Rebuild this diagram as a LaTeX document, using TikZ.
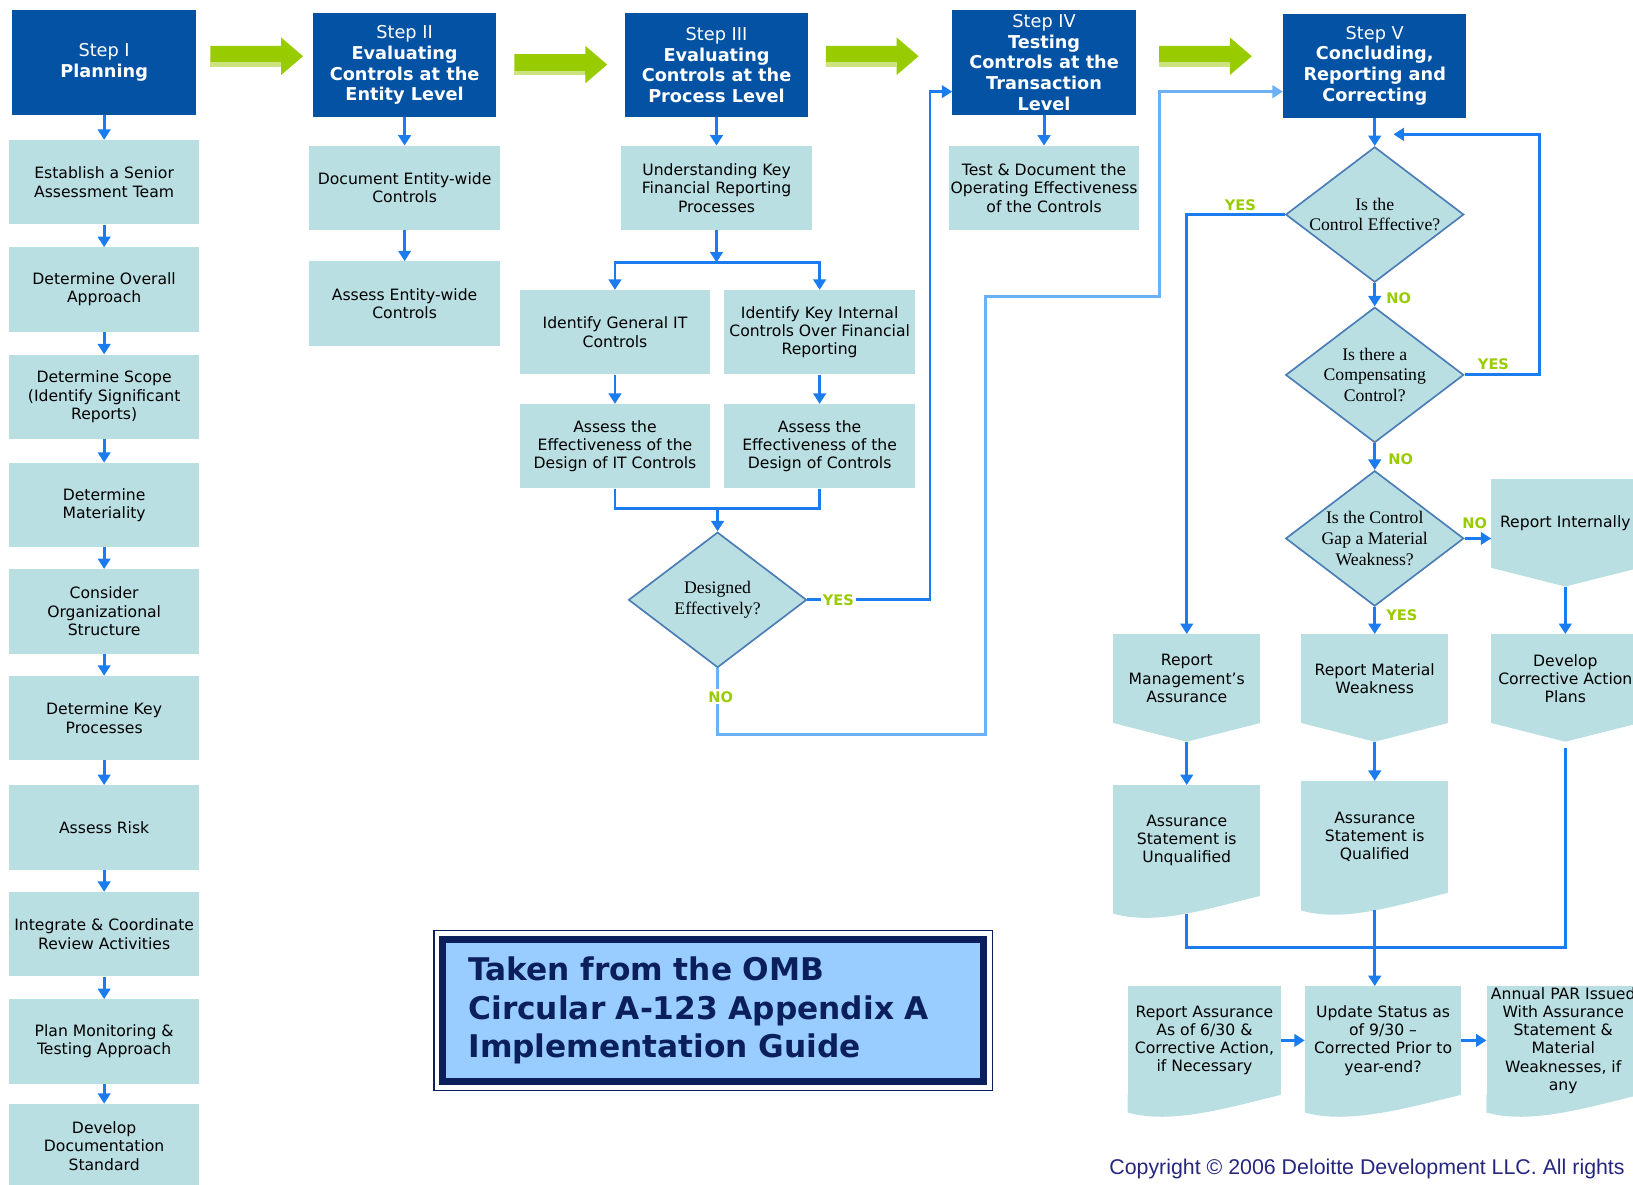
\documentclass[tikz,border=0pt]{standalone}
\usepackage{fontspec}
\setmainfont{DejaVu Sans}
\newfontfamily\qfont{Liberation Serif}
\newfontfamily\cfont{Liberation Sans}
\usetikzlibrary{shapes.geometric,arrows.meta,calc}

\definecolor{stepblue}{HTML}{0352A4}
\definecolor{boxfill}{HTML}{BADFE3}
\definecolor{diaedge}{HTML}{4A7DB5}
\definecolor{lineblue}{HTML}{1A7CEE}
\definecolor{lightline}{HTML}{6CB0F6}
\definecolor{arrowgreen}{HTML}{99CC00}
\definecolor{arrowlight}{HTML}{CCE37F}
\definecolor{ombnavy}{HTML}{0B1F5C}
\definecolor{ombfill}{HTML}{99CCFF}
\definecolor{copyblue}{HTML}{262680}

\tikzset{
  stepbox/.style={rectangle, fill=stepblue, text=white, minimum width=176pt, minimum height=100pt, inner sep=0pt, align=center, font=\fontsize{17}{20}\selectfont},
  taskbox/.style={rectangle, fill=boxfill, minimum width=183pt, minimum height=81pt, inner sep=0pt, align=center, font=\fontsize{15}{17.5}\selectfont},
  flagbox/.style={taskbox, minimum width=142pt, minimum height=85pt},
  docbox/.style={taskbox, minimum width=147pt, minimum height=104pt},
  decision/.style={diamond, fill=boxfill, draw=diaedge, line width=1.6pt, minimum width=171pt, minimum height=130pt, inner sep=0pt},
  qtext/.style={align=center, font=\qfont\fontsize{17}{20}\selectfont},
  flow/.style={draw=lineblue, line width=2.8pt, -{Triangle[width=12pt,length=10pt]}},
  joinline/.style={draw=lineblue, line width=2.8pt},
  yn/.style={text=arrowgreen, font=\bfseries\fontsize{14}{14}\selectfont, inner sep=2pt},
}

\begin{document}
\begin{tikzpicture}[x=1pt, y=-1pt]
  \useasboundingbox (0,0) rectangle (1568,1137);
  \clip (0,0) rectangle (1568,1137);

  % step headers
  \node[stepbox] (s1) at (100,60) {Step I\\\textbf{Planning}};
  \node[stepbox] (s2) at (388.5,62.5) {Step II\\\textbf{Evaluating}\\\textbf{Controls at the}\\\textbf{Entity Level}};
  \node[stepbox] (s3) at (688,62.5) {Step III\\\textbf{Evaluating}\\\textbf{Controls at the}\\\textbf{Process Level}};
  \node[stepbox] (s4) at (1002.5,60) {Step IV\\\textbf{Testing}\\\textbf{Controls at the}\\\textbf{Transaction}\\\textbf{Level}};
  \node[stepbox] (s5) at (1320,63) {Step V\\\textbf{Concluding,}\\\textbf{Reporting and}\\\textbf{Correcting}};

  % green arrows between steps
  \foreach \gx/\gy in {202/54, 494/62, 793/54, 1113/54}{
    \fill[arrowgreen] (\gx,\gy-10) -- ++(68,0) -- ++(0,-8) -- ++(21,18) -- ++(-21,18) -- ++(0,-8) -- ++(-68,0) -- cycle;
    \fill[arrowlight] (\gx,\gy+6) rectangle ++(68,4);
  }

  % step I: planning
  \node[taskbox] (p1) at (100,175) {Establish a Senior\\Assessment Team};
  \node[taskbox] (p2) at (100,278) {Determine Overall\\Approach};
  \node[taskbox] (p3) at (100,381) {Determine Scope\\(Identify Significant\\Reports)};
  \node[taskbox] (p4) at (100,485) {Determine\\Materiality};
  \node[taskbox] (p5) at (100,587) {Consider\\Organizational\\Structure};
  \node[taskbox] (p6) at (100,689.5) {Determine Key\\Processes};
  \node[taskbox] (p7) at (100,794.5) {Assess Risk};
  \node[taskbox] (p8) at (100,897) {Integrate \& Coordinate\\Review Activities};
  \node[taskbox] (p9) at (100,1000) {Plan Monitoring \&\\Testing Approach};
  \node[taskbox] (p10) at (100,1100.5) {Develop\\Documentation\\Standard};

  % step II: entity level
  \node[taskbox] (e1) at (388.5,180.5) {Document Entity-wide\\Controls};
  \node[taskbox] (e2) at (388.5,291.5) {Assess Entity-wide\\Controls};

  % step III: process level
  \node[taskbox] (u1) at (688,180.5) {Understanding Key\\Financial Reporting\\Processes};
  \node[taskbox] (i1) at (590.5,319) {Identify General IT\\Controls};
  \node[taskbox] (i2) at (787,319) {Identify Key Internal\\Controls Over Financial\\Reporting};
  \node[taskbox] (a1) at (590.5,428.5) {Assess the\\Effectiveness of the\\Design of IT Controls};
  \node[taskbox] (a2) at (787,428.5) {Assess the\\Effectiveness of the\\Design of Controls};
  \node[decision, label={[qtext]center:Designed\\Effectively?}] (d1) at (689,576) {};

  % step IV: transaction level
  \node[taskbox] (t1) at (1002.5,180.5) {Test \& Document the\\Operating Effectiveness\\of the Controls};

  % step V: concluding
  \node[decision, label={[qtext]center:Is the\\Control Effective?}] (q1) at (1320,206) {};
  \node[decision, label={[qtext]center:Is there a\\Compensating\\Control?}] (q2) at (1320,360) {};
  \node[decision, label={[qtext]center:Is the Control\\Gap a Material\\Weakness?}] (q3) at (1320,517) {};

  \node[flagbox] (ri) at (1503,502.5) {Report Internally};
  \node[flagbox, minimum width=141pt] (rma) at (1139.5,651.5) {Report\\Management’s\\Assurance};
  \node[flagbox, minimum width=141pt] (rmw) at (1320,651.5) {Report Material\\Weakness};
  \node[flagbox] (dca) at (1503,651.5) {Develop\\Corrective Action\\Plans};

  \node[docbox, minimum width=141pt, minimum height=106pt] (unq) at (1139.5,807) {Assurance\\Statement is\\Unqualified};
  \node[docbox, minimum width=141pt, minimum height=107pt] (qual) at (1320,803.5) {Assurance\\Statement is\\Qualified};
  \node[docbox] (ra) at (1156.5,999) {Report Assurance\\As of 6/30 \&\\Corrective Action,\\if Necessary};
  \node[docbox, minimum width=150pt] (us) at (1328,999) {Update Status as\\of 9/30 --\\Corrected Prior to\\year-end?};
  \node[docbox] (par) at (1501,999) {Annual PAR Issued\\With Assurance\\Statement \&\\Material\\Weaknesses, if\\any};

  % pointed and wavy bottoms
  \foreach \b in {ri,rma,rmw,dca}
    \fill[boxfill] (\b.south west) -- (\b.south east) -- ($(\b.south)+(0,18)$) -- cycle;
  \foreach \d in {unq,qual,ra,us,par}
    \fill[boxfill] (\d.south east) -- (\d.south west) -- ++(0,17) .. controls +(42,12) and +(-50,12) .. (\d.south east) -- cycle;

  \coordinate (ritip) at ($(ri.south)+(0,18)$);
  \coordinate (rmatip) at ($(rma.south)+(0,18)$);
  \coordinate (rmwtip) at ($(rmw.south)+(0,18)$);
  \coordinate (dcab) at ($(dca.south)+(0,24)$);
  \coordinate (unqb) at ($(unq.south)+(0,17)$);
  \coordinate (qualb) at ($(qual.south)+(0,17)$);

  % connectors
  \foreach \a/\b in {s1/p1,p1/p2,p2/p3,p3/p4,p4/p5,p5/p6,p6/p7,p7/p8,p8/p9,p9/p10,s2/e1,e1/e2,s3/u1,i1/a1,i2/a2,s4/t1,s5/q1,q1/q2,q2/q3,q3/rmw}
    \draw[flow] (\a) -- (\b);

  \coordinate (split) at (688,252);
  \draw[flow] (u1) -- (split);
  \draw[flow] (split) -| (i1);
  \draw[flow] (split) -| (i2);
  \coordinate (join) at (689,488);
  \draw[joinline] (a1) |- (join) -| (a2);
  \draw[flow] (join) -- (d1);

  \coordinate (c4) at (893,88);
  \draw[flow] (d1.east) -| (c4) -- (c4 -| s4.west);
  \coordinate (nobend1) at (689,705);
  \coordinate (nobend2) at (946,285);
  \coordinate (nobend3) at (1113,88);
  \draw[flow, draw=lightline] (d1.south) -- (nobend1) -| (nobend2) -| (nobend3) -- (nobend3 -| s5.west);

  \draw[flow] (q1.west) -| (rma);
  \coordinate (loop) at (1478,129);
  \coordinate (loopin) at (1338,129);
  \draw[flow] (q2.east) -| (loop) -- (loopin);
  \draw[flow] (q3.east) -- (q3.east -| ri.west);
  \draw[flow] (ritip) -- (dca);
  \draw[flow] (rmatip) -- (unq);
  \draw[flow] (rmwtip) -- (qual);
  \coordinate (merge) at (1320,910);
  \draw[joinline] (unqb) |- (merge) -| (dcab);
  \draw[flow] (qualb) -- (qualb |- us.north);
  \draw[flow] (ra) -- (us);
  \draw[flow] (us) -- (par);

  % yes / no labels
  \node[yn, fill=white] (yes1) at (805,576) {YES};
  \node[yn, fill=white] (nol1) at (692,669) {NO};
  \node[yn] (yes2) at (1191,197) {YES};
  \node[yn] (nol2) at (1343,286) {NO};
  \node[yn] (yes3) at (1434,350) {YES};
  \node[yn] (nol3) at (1345,441) {NO};
  \node[yn] (nol4) at (1416,502) {NO};
  \node[yn] (yes4) at (1346,591) {YES};

  % source box
  \node[draw=ombnavy, line width=7pt, fill=ombfill, minimum width=519.5pt, minimum height=136.5pt, text width=470pt, align=left, inner sep=0pt, text=ombnavy, font=\bfseries\fontsize{30}{37}\selectfont] (omb) at (684.75,970.25) {Taken from the OMB\\Circular A-123 Appendix A\\Implementation Guide};
  \draw[ombnavy, line width=1.5pt] ($(omb.north west)+(-5,-5)$) rectangle ($(omb.south east)+(5,5)$);

  \node[anchor=base west, text=copyblue, font=\cfont\fontsize{20.5}{20.5}\selectfont, inner sep=0pt] (copy) at (1065,1128) {Copyright © 2006 Deloitte Development LLC. All rights};
\end{tikzpicture}
\end{document}
